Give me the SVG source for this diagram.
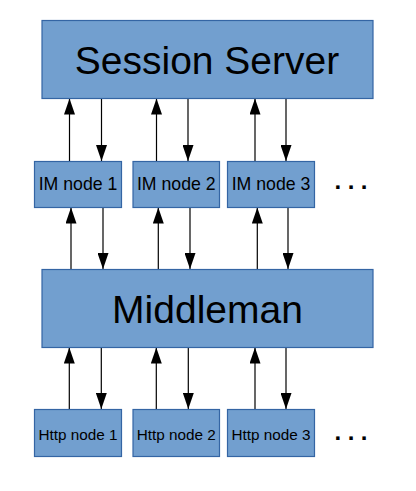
<svg xmlns="http://www.w3.org/2000/svg" width="416" height="491" viewBox="0 0 416 491">
<style>
.box{fill:#729fcf;stroke:#3465a4;stroke-width:1.2}
.t{font-family:"Liberation Sans",Arial,sans-serif;fill:#000;text-anchor:middle}
.big{font-size:39px}
.im{font-size:17.7px}
.http{font-size:15.3px}
.c{stroke:#000;stroke-width:1.2;fill:none;marker-end:url(#ah)}
.dots{font-family:"Liberation Sans",Arial,sans-serif;font-weight:bold;font-size:24px;letter-spacing:6.5px;fill:#000}
</style>
<defs>
<marker id="ah" viewBox="0 0 16 11" refX="16" refY="5.5" markerWidth="16" markerHeight="11" orient="auto" markerUnits="userSpaceOnUse">
<path d="M0,0 L16,5.5 L0,11 Z" fill="#000"/>
</marker>
</defs>
<rect width="416" height="491" fill="#fff"/>
<g id="connectors">
<line class="c" x1="69.5" y1="161" x2="69.5" y2="98.5"/>
<line class="c" x1="101.5" y1="98.5" x2="101.5" y2="161"/>
<line class="c" x1="156.5" y1="161" x2="156.5" y2="98.5"/>
<line class="c" x1="188" y1="98.5" x2="188" y2="161"/>
<line class="c" x1="255" y1="161" x2="255" y2="98.5"/>
<line class="c" x1="286" y1="98.5" x2="286" y2="161"/>
<line class="c" x1="71" y1="269" x2="71" y2="207.5"/>
<line class="c" x1="103" y1="207.5" x2="103" y2="269"/>
<line class="c" x1="158.3" y1="269" x2="158.3" y2="207.5"/>
<line class="c" x1="190" y1="207.5" x2="190" y2="269"/>
<line class="c" x1="257.3" y1="269" x2="257.3" y2="207.5"/>
<line class="c" x1="288" y1="207.5" x2="288" y2="269"/>
<line class="c" x1="69.3" y1="409" x2="69.3" y2="347.5"/>
<line class="c" x1="101.3" y1="347.5" x2="101.3" y2="409"/>
<line class="c" x1="156.3" y1="409" x2="156.3" y2="347.5"/>
<line class="c" x1="188.3" y1="347.5" x2="188.3" y2="409"/>
<line class="c" x1="255" y1="409" x2="255" y2="347.5"/>
<line class="c" x1="286" y1="347.5" x2="286" y2="409"/>
</g>
<g id="session-server">
<rect class="box" x="42" y="20.5" width="331" height="78"/>
<text class="t big" x="207" y="73.5">Session Server</text>
</g>
<g id="im-node-1">
<rect class="box" x="34.5" y="161.5" width="87" height="46"/>
<text class="t im" x="78" y="190">IM node 1</text>
</g>
<g id="im-node-2">
<rect class="box" x="133" y="161.5" width="86.5" height="46"/>
<text class="t im" x="176.3" y="190">IM node 2</text>
</g>
<g id="im-node-3">
<rect class="box" x="227.5" y="161.5" width="87" height="46"/>
<text class="t im" x="271" y="190">IM node 3</text>
</g>
<g id="im-more">
<text class="dots" x="334.5" y="189">...</text>
</g>
<g id="middleman">
<rect class="box" x="42" y="269.5" width="331" height="78"/>
<text class="t big" x="207.5" y="322.5">Middleman</text>
</g>
<g id="http-node-1">
<rect class="box" x="34.5" y="409.5" width="87" height="47"/>
<text class="t http" x="78" y="439.5">Http node 1</text>
</g>
<g id="http-node-2">
<rect class="box" x="133" y="409.5" width="86.5" height="47"/>
<text class="t http" x="176.3" y="439.5">Http node 2</text>
</g>
<g id="http-node-3">
<rect class="box" x="227.5" y="409.5" width="87" height="47"/>
<text class="t http" x="271" y="439.5">Http node 3</text>
</g>
<g id="http-more">
<text class="dots" x="334.5" y="440">...</text>
</g>
</svg>
